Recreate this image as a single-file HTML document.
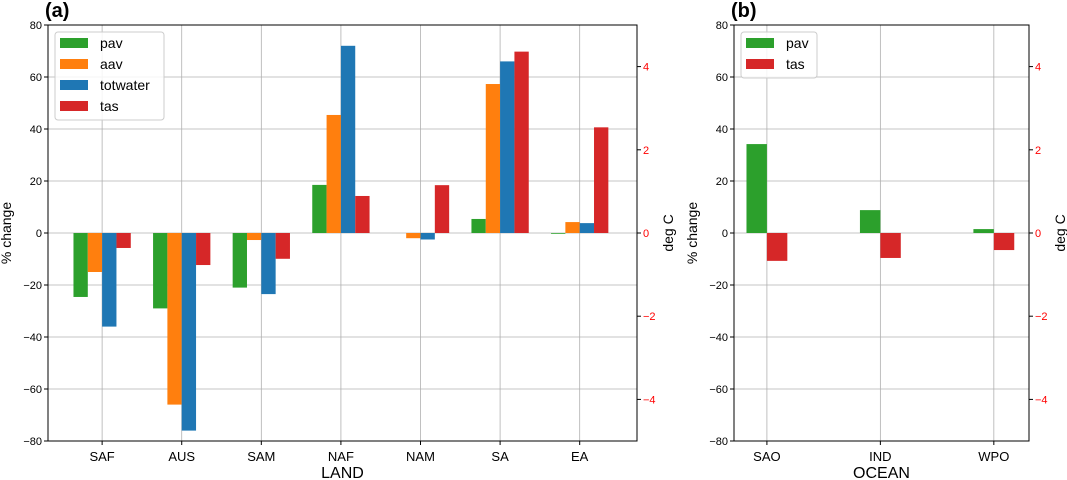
<!DOCTYPE html>
<html><head><meta charset="utf-8"><style>
body{margin:0;background:#fff;}
svg{display:block;font-family:"Liberation Sans","DejaVu Sans",sans-serif;}
</style></head><body>
<svg id="chart" width="1067" height="480" xmlns="http://www.w3.org/2000/svg"></svg>
<script>
const landCats = ["SAF","AUS","SAM","NAF","NAM","SA","EA"];
const landPav = [-24.6,-29,-21,18.5,0,5.4,-0.3];
const landAav = [-15,-66,-2.7,45.4,-2,57.3,4.2];
const landTot = [-36,-76,-23.5,72,-2.5,66,3.8];
const landTas = [-0.36,-0.77,-0.62,0.89,1.15,4.36,2.54];
const oceanCats = ["SAO","IND","WPO"];
const oceanPav = [34.2,8.8,1.5];
const oceanTas = [-0.67,-0.6,-0.41];
const yTicks = [-80,-60,-40,-20,0,20,40,60,80];
const tTicks = [-4,-2,0,2,4];

const svg = document.getElementById('chart');
const NS = "http://www.w3.org/2000/svg";
function mk(tag, attrs, text){
  const e = document.createElementNS(NS, tag);
  for (const k in attrs) e.setAttribute(k, attrs[k]);
  if (text !== undefined) e.textContent = text;
  svg.appendChild(e);
  return e;
}
const fmt = v => (v < 0 ? "\u2212" + Math.abs(v) : String(v));
const COL = {pav:"#2ca02c", aav:"#ff7f0e", tot:"#1f77b4", tas:"#d62728"};
const plotTop = 25, plotBot = 441;
const yS = v => 233 - (v/80)*208;
const tS = v => 233 - (v/5)*208;

function panel(o){
  const xS = i => o.x0 + (i - o.xmin)/(o.xmax - o.xmin)*(o.x1 - o.x0);
  const bw = 0.18*(o.x1 - o.x0)/(o.xmax - o.xmin);
  yTicks.forEach(v=>{
    const g = mk('line',{x1:o.x0,x2:o.x1,y1:yS(v),y2:yS(v),stroke:"#b0b0b0","stroke-width":0.8});
    
    
  });
  o.cats.forEach((c,i)=>{
    const g = mk('line',{x1:xS(i),x2:xS(i),y1:plotTop,y2:plotBot,stroke:"#b0b0b0","stroke-width":0.8});
    
    
  });
  o.series.forEach((s,si)=>{
    s.vals.forEach((v,i)=>{
      const x = xS(i) + (o.offset + si)*bw;
      const y0 = s.temp ? tS(0) : yS(0);
      const y1 = s.temp ? tS(v) : yS(v);
      const r = mk('rect',{x:x,y:Math.min(y0,y1),width:bw,height:Math.max(Math.abs(y1-y0),0.01),fill:s.color});
      
      
    });
  });
  const f = mk('rect',{x:o.x0,y:plotTop,width:o.x1-o.x0,height:plotBot-plotTop,fill:"none",stroke:"#000","stroke-width":1});
  
  
  yTicks.forEach(v=>{
    mk('line',{x1:o.x0-4,x2:o.x0,y1:yS(v),y2:yS(v),stroke:"#000"});
    const t = mk('text',{x:o.x0-6,y:yS(v)+4,"text-anchor":"end","font-size":11,fill:"#000"}, fmt(v));
    
    
  });
  tTicks.forEach(v=>{
    mk('line',{x1:o.x1,x2:o.x1+4,y1:tS(v),y2:tS(v),stroke:"#000"});
    const t = mk('text',{x:o.x1+6,y:tS(v)+4,"font-size":11,fill:"#ff0000"}, fmt(v));
    
    
  });
  o.cats.forEach((c,i)=>{
    mk('line',{x1:xS(i),x2:xS(i),y1:plotBot,y2:plotBot+4,stroke:"#000"});
    const t = mk('text',{x:xS(i),y:461,"text-anchor":"middle","font-size":13,fill:"#000"}, c);
    
    
  });
  let t = mk('text',{x:(o.x0+o.x1)/2,y:478,"text-anchor":"middle","font-size":16}, o.xlabel);
  
  
  t = mk('text',{transform:`translate(${o.x0-37},233) rotate(-90)`,"text-anchor":"middle","font-size":14}, "% change");
  
  
  t = mk('text',{transform:`translate(${o.x1+36},233) rotate(-90)`,"text-anchor":"middle","font-size":14}, "deg C");
  
  
  t = mk('text',{x:o.x0-3,y:17,"font-size":20,"font-weight":"bold"}, o.title);
  
  
  const lh = 21*o.series.length + 4;
  const lb = mk('rect',{x:o.x0+7,y:32,width:o.legW,height:lh,rx:3,fill:"#fff","fill-opacity":0.85,stroke:"#ccc"});
  
  
  o.series.forEach((s,si)=>{
    const y = 38 + si*21;
    const p = mk('rect',{x:o.x0+12,y:y,width:28,height:10,fill:s.color});
    
    
    const lt = mk('text',{x:o.x0+52,y:y+10,"font-size":14}, s.name);
    
    
  });
}
panel({x0:48,x1:637,xmin:-0.68,xmax:6.72,cats:landCats,offset:-2,xlabel:"LAND",title:"(a)",legW:109,
  series:[{name:"pav",vals:landPav,color:COL.pav},{name:"aav",vals:landAav,color:COL.aav},
          {name:"totwater",vals:landTot,color:COL.tot},{name:"tas",vals:landTas,color:COL.tas,temp:true}]});
panel({x0:734,x1:1029,xmin:-0.29,xmax:2.31,cats:oceanCats,offset:-1,xlabel:"OCEAN",title:"(b)",legW:76,
  series:[{name:"pav",vals:oceanPav,color:COL.pav},{name:"tas",vals:oceanTas,color:COL.tas,temp:true}]});
</script>
</body></html>
